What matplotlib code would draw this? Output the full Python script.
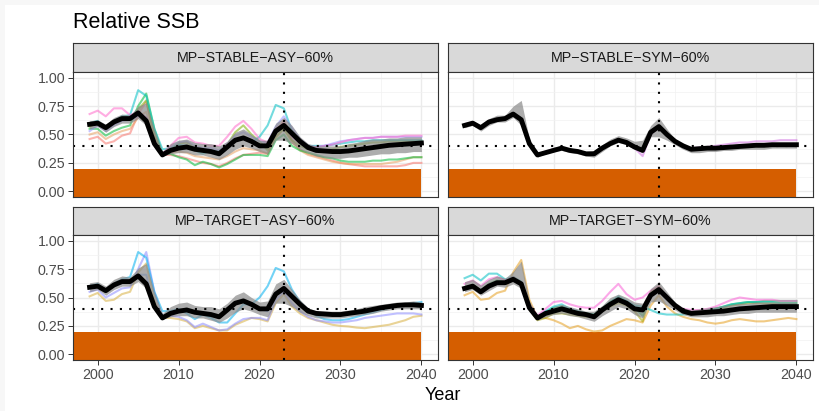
#---Relative SSB, 2x2 facet panels (ggplot theme_bw look)---#
import matplotlib
matplotlib.use("Agg")
import matplotlib.pyplot as plt
from matplotlib.patches import Rectangle

plt.rcParams['font.family'] = ['Liberation Sans', 'DejaVu Sans']

###-----Data-----###
years = list(range(1999, 2041))  # 42 years

titles = ['MP\u2212STABLE\u2212ASY\u221260%', 'MP\u2212STABLE\u2212SYM\u221260%',
          'MP\u2212TARGET\u2212ASY\u221260%', 'MP\u2212TARGET\u2212SYM\u221260%']

limit_ref = 0.2      # orange zone top
target_ref = 0.4     # horizontal dotted line
current_year = 2023  # vertical dotted line

# STABLE-ASY
med_sa = [.59,.60,.56,.61,.64,.64,.69,.62,.42,.32, .36,.38,.39,.37,.36,.35,.33,.39,.45,.47,
          .44,.40,.40,.53,.58,.51,.44,.385,.36,.355, .35,.35,.355,.365,.375,.385,.395,.405,.41,.415,
          .42,.425]
lo_sa = [.55,.57,.52,.57,.60,.60,.64,.58,.40,.31, .33,.34,.34,.32,.32,.30,.28,.32,.37,.40,
         .38,.35,.33,.45,.45,.42,.37,.34,.31,.30, .29,.29,.30,.30,.31,.32,.33,.33,.34,.34,
         .35,.35]
hi_sa = [.62,.63,.59,.65,.68,.67,.75,.78,.55,.35, .42,.45,.46,.43,.42,.42,.40,.44,.52,.55,
         .50,.45,.45,.60,.65,.58,.48,.42,.40,.40, .40,.40,.42,.43,.45,.46,.46,.47,.47,.48,
         .48,.48]
sa_pink = [.68,.71,.66,.73,.73,.67,.70,.65,.45,.33, .40,.47,.48,.43,.42,.40,.40,.48,.57,.62,
           .55,.46,.43,.55,.60,.48,.42,.39,.39,.40, .41,.43,.45,.46,.47,.47,.48,.48,.48,.49,
           .49,.49]
sa_teal = [.60,.62,.55,.62,.66,.67,.89,.84,.55,.37, .38,.41,.40,.36,.33,.36,.35,.40,.44,.47,
           .43,.48,.58,.76,.73,.53,.44,.40,.40,.40, .41,.42,.43,.44,.44,.45,.45,.45,.45,.45,
           .45,.45]
sa_green = [.55,.55,.49,.53,.56,.58,.75,.86,.55,.33, .33,.30,.28,.23,.26,.24,.21,.24,.28,.32,
            .32,.32,.31,.45,.50,.40,.36,.34,.32,.30, .29,.27,.26,.26,.26,.27,.27,.28,.28,.29,
            .30,.30]
sa_orange = [.46,.48,.42,.44,.49,.51,.68,.79,.50,.32, .32,.31,.29,.27,.25,.24,.22,.25,.29,.32,
             .33,.34,.33,.50,.63,.45,.37,.33,.31,.29, .27,.25,.24,.23,.22,.22,.22,.22,.22,.23,
             .25,.25]
sa_purple = [.53,.58,.53,.58,.62,.63,.66,.65,.45,.33, .39,.43,.44,.40,.38,.38,.36,.42,.49,.52,
             .48,.44,.43,.57,.66,.56,.46,.40,.39,.40, .42,.44,.45,.46,.47,.47,.48,.48,.48,.48,
             .48,.48]
sa_olive = [.57,.60,.55,.61,.64,.63,.72,.80,.48,.33, .37,.42,.43,.39,.37,.36,.35,.41,.52,.58,
            .50,.44,.36,.48,.55,.45,.40,.37,.36,.36, .37,.39,.40,.41,.42,.43,.43,.44,.44,.44,
            .44,.44]
sa_peach = [.50,.52,.46,.50,.53,.55,.65,.70,.46,.32, .34,.35,.34,.31,.30,.29,.28,.31,.35,.38,
            .37,.36,.33,.47,.55,.43,.36,.32,.30,.28, .26,.25,.24,.24,.24,.24,.24,.25,.26,.28,
            .30,.30]

# STABLE-SYM
med_ss = [.58,.60,.56,.61,.63,.64,.68,.63,.42,.32, .34,.36,.38,.36,.35,.33,.33,.38,.42,.45,
          .43,.39,.36,.52,.57,.50,.44,.40,.37,.375, .38,.38,.385,.39,.395,.40,.405,.405,.41,.41,
          .41,.41]
lo_ss = [.56,.58,.53,.58,.61,.61,.65,.58,.40,.30, .33,.35,.36,.34,.33,.31,.30,.35,.40,.43,
         .41,.37,.34,.48,.48,.45,.41,.37,.34,.34, .35,.35,.36,.36,.37,.37,.37,.37,.38,.38,
         .38,.38]
hi_ss = [.60,.62,.58,.64,.67,.67,.75,.80,.46,.33, .36,.39,.40,.38,.37,.35,.36,.41,.46,.49,
         .47,.44,.45,.58,.65,.55,.46,.41,.39,.39, .40,.40,.41,.41,.42,.42,.43,.43,.43,.43,
         .43,.43]
ss_purple = [.59,.61,.56,.62,.64,.64,.68,.62,.41,.32, .35,.37,.38,.36,.35,.33,.32,.37,.42,.46,
             .43,.38,.31,.50,.56,.49,.43,.39,.38,.385, .39,.40,.41,.42,.43,.43,.44,.44,.44,.45,
             .45,.45]

# TARGET-ASY
med_ta = [.59,.60,.56,.61,.64,.64,.69,.62,.42,.32, .36,.38,.39,.37,.36,.35,.33,.39,.45,.47,
          .44,.40,.40,.53,.58,.51,.44,.38,.36,.355, .35,.35,.36,.37,.38,.395,.41,.42,.43,.435,
          .435,.43]
lo_ta = [.55,.57,.52,.57,.60,.60,.64,.58,.40,.31, .33,.34,.34,.32,.32,.30,.28,.32,.37,.40,
         .38,.35,.33,.45,.45,.42,.37,.34,.32,.32, .32,.32,.33,.34,.35,.36,.38,.39,.40,.40,
         .40,.40]
hi_ta = [.63,.64,.60,.66,.69,.68,.76,.80,.55,.36, .42,.45,.46,.43,.42,.42,.40,.45,.52,.55,
         .50,.46,.47,.62,.66,.57,.48,.41,.38,.38, .38,.38,.39,.40,.42,.43,.44,.45,.46,.46,
         .47,.46]
ta_cyan = [.60,.62,.55,.62,.66,.68,.90,.85,.55,.38, .38,.40,.36,.31,.35,.32,.28,.28,.36,.44,
           .44,.50,.60,.76,.73,.57,.46,.39,.34,.31, .30,.30,.31,.33,.35,.37,.39,.41,.43,.44,
           .45,.46]
ta_lavender = [.55,.57,.50,.54,.58,.59,.75,.90,.55,.33, .34,.33,.30,.24,.27,.24,.21,.22,.27,.31,
               .32,.32,.30,.48,.55,.45,.38,.33,.30,.29, .28,.28,.29,.30,.32,.33,.34,.35,.36,.36,
               .36,.35]
ta_tan = [.51,.54,.47,.48,.53,.55,.72,.80,.48,.32, .32,.31,.29,.23,.25,.23,.21,.21,.26,.29,
          .32,.31,.29,.45,.53,.42,.36,.32,.30,.28, .26,.25,.245,.235,.23,.24,.25,.26,.28,.30,
          .33,.34]
ta_blue = [.58,.60,.55,.60,.63,.64,.70,.70,.42,.32, .36,.38,.39,.36,.35,.34,.32,.38,.44,.47,
           .44,.40,.38,.53,.58,.50,.43,.38,.36,.35, .35,.35,.36,.37,.38,.40,.41,.42,.43,.44,
           .44,.44]

# TARGET-SYM
med_ts = [.58,.60,.55,.60,.63,.63,.66,.62,.41,.32, .36,.38,.40,.38,.36,.35,.33,.39,.44,.48,
          .45,.40,.39,.52,.57,.50,.43,.38,.36,.365, .37,.375,.38,.39,.40,.405,.41,.415,.42,.42,
          .42,.42]
lo_ts = [.55,.57,.52,.56,.60,.59,.62,.58,.38,.30, .33,.35,.36,.34,.33,.31,.29,.34,.38,.42,
         .40,.35,.32,.46,.47,.43,.39,.35,.33,.33, .33,.34,.34,.35,.36,.36,.37,.37,.37,.37,
         .37,.37]
hi_ts = [.64,.66,.61,.66,.69,.67,.73,.82,.47,.33, .38,.42,.44,.42,.40,.38,.38,.43,.50,.53,
         .50,.46,.45,.58,.64,.55,.46,.41,.39,.40, .41,.42,.43,.44,.45,.45,.46,.46,.46,.46,
         .46,.46]
ts_teal = [.67,.70,.65,.71,.71,.66,.68,.64,.43,.33, .38,.42,.44,.40,.38,.36,.35,.40,.46,.51,
           .47,.43,.42,.39,.36,.35,.35,.35,.36,.37, .38,.40,.42,.44,.45,.46,.46,.46,.46,.45,
           .45,.45]
ts_pink = [.62,.65,.60,.66,.68,.65,.68,.63,.44,.34, .40,.46,.47,.44,.42,.41,.41,.47,.55,.62,
           .53,.48,.50,.56,.60,.50,.43,.40,.39,.39, .40,.42,.45,.48,.50,.49,.48,.48,.48,.47,
           .47,.47]
ts_tan = [.52,.55,.48,.49,.54,.56,.72,.83,.48,.32, .32,.30,.27,.23,.25,.22,.20,.21,.25,.28,
          .31,.30,.28,.43,.52,.42,.36,.33,.31,.30, .28,.27,.28,.30,.31,.30,.29,.29,.30,.31,
          .32,.31]
ts_olive = [.57,.60,.55,.60,.64,.63,.68,.62,.40,.30, .32,.36,.36,.35,.34,.33,.34,.38,.42,.45,
            .43,.38,.29,.55,.60,.50,.42,.37,.35,.36, .37,.39,.41,.43,.44,.45,.45,.45,.45,.45,
            .45,.45]
ts_green = [.58,.61,.56,.62,.65,.64,.68,.63,.42,.32, .37,.41,.42,.39,.37,.36,.35,.40,.46,.50,
            .46,.41,.34,.52,.58,.49,.43,.39,.37,.37, .38,.40,.42,.44,.45,.46,.46,.47,.47,.47,
            .47,.47]
###-----Data-----###

panels = [
    (med_sa, lo_sa, hi_sa, [(sa_orange, '#F8766D'), (sa_peach, '#E8A060'), (sa_olive, '#7CAE00'),
                            (sa_green, '#00BA38'), (sa_teal, '#00BFC4'), (sa_purple, '#9590FF'),
                            (sa_pink, '#FF6BCB')]),
    (med_ss, lo_ss, hi_ss, [(ss_purple, '#D070E0')]),
    (med_ta, lo_ta, hi_ta, [(ta_tan, '#D8B040'), (ta_blue, '#619CFF'), (ta_lavender, '#8C8CFF'),
                            (ta_cyan, '#00B0F0')]),
    (med_ts, lo_ts, hi_ts, [(ts_tan, '#E6A020'), (ts_olive, '#A3A500'), (ts_green, '#00BA38'),
                            (ts_teal, '#00BFC4'), (ts_pink, '#FB61D7')]),
]

W, H = 819, 411
fig = plt.figure(figsize=(W / 100, H / 100), dpi=100, facecolor='white')
# thin light-grey frame on the top and left edge of the picture
fig.patches.append(Rectangle((0, 1 - 5 / H), 1, 5 / H, transform=fig.transFigure,
                             facecolor='#f7f7f7', edgecolor='none', zorder=-5))
fig.patches.append(Rectangle((0, 0), 5 / W, 1, transform=fig.transFigure,
                             facecolor='#f7f7f7', edgecolor='none', zorder=-5))

def rect(x0, y0, x1, y1):  # pixel box (top-left origin) -> figure coords
    return [x0 / W, 1 - y1 / H, (x1 - x0) / W, (y1 - y0) / H]

col_x = [(73, 438), (448, 813)]
row_y = [(43, 72, 197), (207, 235, 360)]
fs_axis = 10.3

for i, (med, lo, hi, lines) in enumerate(panels):
    r, c = divmod(i, 2)
    x0, x1 = col_x[c]
    s0, p0, p1 = row_y[r]

    #---strip---#
    sax = fig.add_axes(rect(x0, s0, x1, p0))
    sax.set_facecolor('#D9D9D9')
    sax.set_xticks([]); sax.set_yticks([])
    for sp in sax.spines.values():
        sp.set_color('#333333'); sp.set_linewidth(0.8)
    sax.text(0.5, 0.5, titles[i], ha='center', va='center', fontsize=fs_axis,
             color='#1A1A1A', transform=sax.transAxes)

    #---panel---#
    ax = fig.add_axes(rect(x0, p0, x1, p1))
    ax.set_xlim(1996.95, 2042.05)
    ax.set_ylim(-0.05, 1.05)
    ax.set_xticks([2000, 2010, 2020, 2030, 2040])
    ax.set_xticks([2005, 2015, 2025, 2035], minor=True)
    ax.set_yticks([0, 0.25, 0.5, 0.75, 1.0])
    ax.set_yticklabels(['0.00', '0.25', '0.50', '0.75', '1.00'])
    ax.set_yticks([0.125, 0.375, 0.625, 0.875], minor=True)
    ax.grid(which='major', color='#EBEBEB', linewidth=1.0, zorder=0)
    ax.grid(which='minor', color='#F2F2F2', linewidth=0.5, zorder=0)
    ax.set_axisbelow(True)
    for sp in ax.spines.values():
        sp.set_color('#333333'); sp.set_linewidth(0.8); sp.set_zorder(10)
    ax.tick_params(which='minor', length=0)
    ax.tick_params(which='major', length=3.5, width=0.7, color='#333333',
                   labelsize=fs_axis, labelcolor='#4D4D4D', pad=2)
    if c == 1:
        ax.tick_params(axis='y', length=0, labelleft=False)
    if r == 0:
        ax.tick_params(axis='x', length=0, labelbottom=False)

    # orange zone below the limit
    ax.fill_between([1996.95, years[-1]], -0.05, limit_ref, color='#D55E00',
                    linewidth=0, zorder=1)

    for vals, colr in lines:
        ax.plot(years, vals, color=colr, alpha=0.55, linewidth=1.5, zorder=2)
    ax.fill_between(years, lo, hi, color='#8A8A8A', alpha=0.7, linewidth=0, zorder=3)
    ax.plot(years, med, color='black', linewidth=3.5, zorder=4, solid_joinstyle='round')

    ax.axhline(target_ref, color='black', linewidth=1.5, linestyle=(0, (1, 3.5)), zorder=5)
    ax.axvline(current_year, color='black', linewidth=1.5, linestyle=(0, (1, 3.5)), zorder=5)

fig.text(73 / W, 1 - 22 / H, 'Relative SSB', fontsize=15.5, color='black',
         ha='left', va='center')
fig.text(443 / W, 1 - 395 / H, 'Year', fontsize=13, color='black',
         ha='center', va='center')

fig.savefig('out.png', dpi=100, facecolor=fig.get_facecolor())
